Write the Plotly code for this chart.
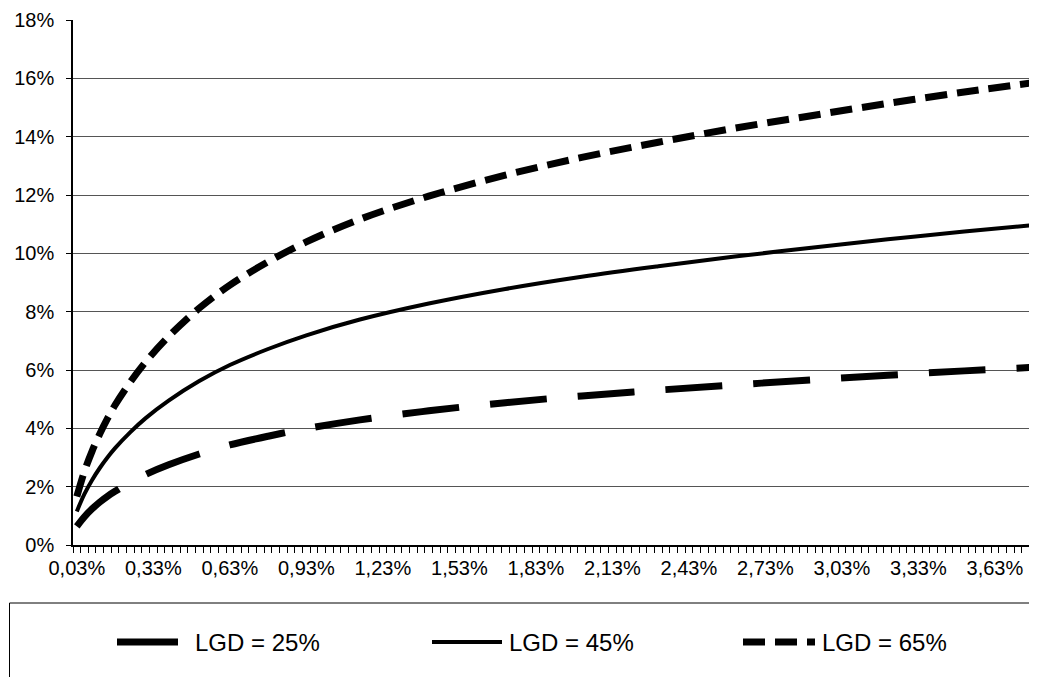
import plotly.graph_objects as go

# Probability of default (%), sampled along the curves
pd_pct = [0.03, 0.06, 0.09, 0.12, 0.15, 0.18, 0.24, 0.30, 0.39, 0.51, 0.63, 0.78,
          0.93, 1.14, 1.41, 1.71, 2.01, 2.31, 2.61, 2.91, 3.21, 3.51, 3.78]

# Capital requirement (%)
lgd25 = [0.64, 0.97, 1.24, 1.47, 1.67, 1.84, 2.15, 2.42, 2.75, 3.12, 3.43, 3.73,
         3.99, 4.29, 4.60, 4.88, 5.11, 5.31, 5.49, 5.66, 5.82, 5.97, 6.09]
lgd45 = [1.15, 1.75, 2.23, 2.64, 3.00, 3.32, 3.87, 4.35, 4.95, 5.62, 6.17, 6.72,
         7.19, 7.73, 8.28, 8.78, 9.20, 9.56, 9.89, 10.19, 10.48, 10.75, 10.97]
lgd65 = [1.66, 2.53, 3.22, 3.81, 4.33, 4.80, 5.59, 6.28, 7.15, 8.12, 8.91, 9.71,
         10.39, 11.17, 11.96, 12.68, 13.29, 13.81, 14.29, 14.72, 15.14, 15.53, 15.85]

series_names = ["LGD = 25%", "LGD = 45%", "LGD = 65%"]

x_tick_vals = [0.03, 0.33, 0.63, 0.93, 1.23, 1.53, 1.83, 2.13, 2.43, 2.73, 3.03, 3.33, 3.63]
x_tick_text = ["0,03%", "0,33%", "0,63%", "0,93%", "1,23%", "1,53%", "1,83%",
               "2,13%", "2,43%", "2,73%", "3,03%", "3,33%", "3,63%"]
y_tick_vals = [0, 2, 4, 6, 8, 10, 12, 14, 16, 18]
y_tick_text = ["0%", "2%", "4%", "6%", "8%", "10%", "12%", "14%", "16%", "18%"]

FONT = "Liberation Sans, Arial, sans-serif"
OFF = 8  # default page margin around the figure
W, H = 1037 - OFF, 677 - OFF
ML, MR, MT, MB = 73 - OFF, 0, 20 - OFF, 677 - 545
PW, PH = W - ML - MR, H - MT - MB


def px_to_paper_x(px):
    return (px - OFF - ML) / PW


def px_to_paper_y(py):
    return (H - MB - (py - OFF)) / PH


styles = [
    dict(color="black", width=7, dash="57px,31px"),
    dict(color="black", width=4, dash="solid"),
    dict(color="black", width=7, dash="22px,10px"),
]

fig = go.Figure()
for name, vals, st in zip(series_names, [lgd25, lgd45, lgd65], styles):
    fig.add_trace(go.Scatter(x=pd_pct, y=vals, mode="lines", name=name, showlegend=False,
                             line=dict(color=st["color"], width=st["width"], dash=st["dash"],
                                       shape="spline")))

# Manual legend (box, sample lines, labels)
shapes = [dict(type="rect", xref="paper", yref="paper",
               x0=px_to_paper_x(9.5), x1=px_to_paper_x(1060),
               y0=px_to_paper_y(720), y1=px_to_paper_y(603),
               line=dict(color="black", width=1), fillcolor="rgba(0,0,0,0)", layer="above")]
annotations = []
legend_y = px_to_paper_y(642)
sample_spans = [(117, 178), (432, 502), (743, 815)]
text_x = [193, 507, 820]
sample_styles = [dict(width=7, dash="solid"), dict(width=4, dash="solid"),
                 dict(width=7, dash="22px,10px")]
for (x0, x1), tx, name, st in zip(sample_spans, text_x, series_names, sample_styles):
    shapes.append(dict(type="line", xref="paper", yref="paper",
                       x0=px_to_paper_x(x0), x1=px_to_paper_x(x1), y0=legend_y, y1=legend_y,
                       line=dict(color="black", width=st["width"], dash=st["dash"])))
    annotations.append(dict(xref="paper", yref="paper", x=px_to_paper_x(tx), y=legend_y,
                            xanchor="left", yanchor="middle", text=name, showarrow=False,
                            font=dict(family=FONT, size=24, color="black")))

fig.update_layout(
    width=W, height=H,
    margin=dict(l=ML, r=MR, t=MT, b=MB, autoexpand=False),
    paper_bgcolor="white", plot_bgcolor="white",
    font=dict(family=FONT, size=20, color="black"),
    showlegend=False,
    shapes=shapes, annotations=annotations,
)

fig.update_xaxes(
    type="linear", range=[0.015, 3.795], automargin=False,
    tickmode="array", tickvals=x_tick_vals, ticktext=x_tick_text,
    ticks="", ticklabelstandoff=4,
    minor=dict(tick0=0.015, dtick=0.03, ticks="outside", ticklen=6, tickcolor="black",
               showgrid=False),
    showgrid=False, zeroline=False,
    showline=True, linecolor="black", linewidth=1.5,
)
fig.update_yaxes(
    range=[0, 18], automargin=False, tickmode="array", tickvals=y_tick_vals, ticktext=y_tick_text,
    ticks="outside", ticklen=5, tickcolor="black", ticklabelstandoff=8,
    showgrid=True, gridcolor="#555555", gridwidth=1, zeroline=False,
    showline=True, linecolor="black", linewidth=1.5,
)

fig.write_html("out.html")
